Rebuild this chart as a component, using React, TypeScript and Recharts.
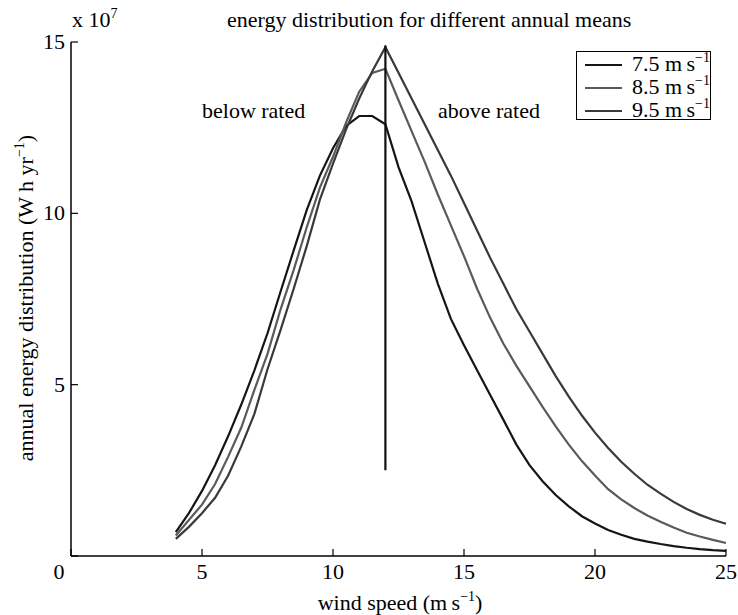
import { LineChart, Line, XAxis, YAxis, ReferenceLine, Legend } from 'recharts'

// wind speed (m/s) sampled every 0.5
const windSpeed = [
  4, 4.5, 5, 5.5, 6, 6.5, 7, 7.5, 8, 8.5, 9, 9.5, 10, 10.5, 11, 11.5, 12,
  12.5, 13, 13.5, 14, 14.5, 15, 15.5, 16, 16.5, 17, 17.5, 18, 18.5, 19, 19.5,
  20, 20.5, 21, 21.5, 22, 22.5, 23, 23.5, 24, 24.5, 25,
]

// annual energy, units of 1e7 W h / yr
const mean75 = [
  0.7, 1.25, 1.9, 2.65, 3.5, 4.42, 5.42, 6.5, 7.72, 8.92, 10.1, 11.1, 11.9, 12.55, 12.84, 12.84, 12.6,
  11.35, 10.35, 9.15, 7.95, 6.92, 6.15, 5.42, 4.7, 3.98, 3.25, 2.65, 2.18, 1.78, 1.45, 1.16,
  0.95, 0.76, 0.62, 0.5, 0.42, 0.35, 0.29, 0.24, 0.2, 0.17, 0.15,
]
const mean85 = [
  0.6, 1.05, 1.5, 2.1, 2.9, 3.75, 4.85, 5.9, 7.2, 8.35, 9.6, 10.75, 11.65, 12.65, 13.55, 14.1, 14.22,
  13.3, 12.4, 11.5, 10.55, 9.65, 8.75, 7.8, 6.95, 6.2, 5.55, 4.95, 4.35, 3.78, 3.25, 2.77,
  2.35, 1.95, 1.65, 1.4, 1.18, 1.0, 0.83, 0.68, 0.57, 0.47, 0.38,
]
const mean95 = [
  0.5, 0.85, 1.25, 1.7, 2.35, 3.2, 4.15, 5.45, 6.6, 7.8, 9.05, 10.4, 11.45, 12.45, 13.35, 14.15, 14.85,
  14.1, 13.35, 12.6, 11.85, 11.1, 10.3, 9.5, 8.7, 7.95, 7.2, 6.55, 5.9, 5.25, 4.65, 4.1,
  3.6, 3.15, 2.75, 2.4, 2.08, 1.82, 1.58, 1.37, 1.2, 1.06, 0.94,
]

const seriesNames = ['7.5', '8.5', '9.5']
const seriesKeys = ['m75', 'm85', 'm95']
const COLORS = ['#151515', '#5a5a5a', '#393939']

const xTicks = [0, 5, 10, 15, 20, 25]
const yTicks = [0, 5, 10, 15]
const ratedSpeed = 12
const ratedLineRange = [2.5, 14.9]

const data = windSpeed.map((x, i) => ({ x, m75: mean75[i], m85: mean85[i], m95: mean95[i] }))

const FONT = '"Liberation Serif", "Times New Roman", serif'
const FS = 22

function BottomTick(props: any) {
  const { x, y, payload } = props
  const shift = payload.value === 0 ? -12 : 0
  return (
    <g>
      <line x1={x} y1={y} x2={x} y2={y - 7} stroke="#000" strokeWidth={1.2} />
      <text x={x + shift} y={y + 23} textAnchor="middle" fontSize={FS} fontFamily={FONT} fill="#000">
        {payload.value}
      </text>
    </g>
  )
}

function TopTick(props: any) {
  const { x, y } = props
  return <line x1={x} y1={y} x2={x} y2={y + 7} stroke="#000" strokeWidth={1.2} />
}

function LeftTick(props: any) {
  const { x, y, payload } = props
  return (
    <g>
      <line x1={x} y1={y} x2={x + 7} y2={y} stroke="#000" strokeWidth={1.2} />
      {payload.value !== 0 && (
        <text x={x - 6} y={y + 7} textAnchor="end" fontSize={FS} fontFamily={FONT} fill="#000">
          {payload.value}
        </text>
      )}
    </g>
  )
}

function RightTick(props: any) {
  const { x, y } = props
  return <line x1={x} y1={y} x2={x - 7} y2={y} stroke="#000" strokeWidth={1.2} />
}

function LegendBox() {
  return (
    <div
      style={{
        boxSizing: 'border-box',
        width: 135,
        height: 69,
        border: '1.5px solid #000',
        background: '#fff',
        padding: '1px 0 0 8px',
        fontFamily: FONT,
        fontSize: FS,
        lineHeight: '23px',
        color: '#000',
      }}
    >
      {seriesNames.map((n, i) => (
        <div key={n} style={{ display: 'flex', alignItems: 'center', height: 23 }}>
          <span
            style={{
              display: 'inline-block',
              width: 37,
              height: 0,
              borderTop: `2.5px solid ${COLORS[i]}`,
              marginRight: 10,
            }}
          />
          <span style={{ whiteSpace: 'nowrap' }}>
            {n} m{'\u2009'}s
            <span style={{ fontSize: 14, position: 'relative', top: -9 }}>−1</span>
          </span>
        </div>
      ))}
    </div>
  )
}

export default function App() {
  return (
    <div style={{ position: 'absolute', left: 0, top: 0, width: 738, height: 615, background: '#fff' }}>
      <LineChart width={738} height={615} data={data} margin={{ top: 42, right: 12, bottom: 0, left: 0 }}>
        <XAxis
          dataKey="x"
          type="number"
          domain={[0, 25]}
          ticks={xTicks}
          interval={0}
          height={59}
          tickSize={0}
          tickMargin={0}
          tick={<BottomTick />}
          axisLine={{ stroke: '#000', strokeWidth: 1.5 }}
        />
        <XAxis
          xAxisId="top"
          orientation="top"
          type="number"
          domain={[0, 25]}
          ticks={xTicks}
          interval={0}
          height={0}
          tickSize={0}
          tickMargin={0}
          tick={<TopTick />}
          axisLine={{ stroke: '#000', strokeWidth: 1.5 }}
        />
        <YAxis
          type="number"
          domain={[0, 15]}
          ticks={yTicks}
          interval={0}
          width={71}
          tickSize={0}
          tickMargin={0}
          tick={<LeftTick />}
          axisLine={{ stroke: '#000', strokeWidth: 1.5 }}
        />
        <YAxis
          yAxisId="right"
          orientation="right"
          type="number"
          domain={[0, 15]}
          ticks={yTicks}
          interval={0}
          width={0}
          tickSize={0}
          tickMargin={0}
          tick={<RightTick />}
          axisLine={{ stroke: '#000', strokeWidth: 1.5 }}
        />
        {seriesKeys.map((k, i) => (
          <Line
            key={k}
            dataKey={k}
            name={seriesNames[i]}
            type="linear"
            stroke={COLORS[i]}
            strokeWidth={2.2}
            dot={false}
            isAnimationActive={false}
          />
        ))}
        <ReferenceLine
          segment={[
            { x: ratedSpeed, y: ratedLineRange[0] },
            { x: ratedSpeed, y: ratedLineRange[1] },
          ]}
          stroke="#111"
          strokeWidth={2.2}
        />
        <Legend
          layout="horizontal"
          verticalAlign="middle"
          align="center"
          content={() => <LegendBox />}
          wrapperStyle={{ left: 576, top: 51, width: 135, height: 69 }}
        />
      </LineChart>
      <svg
        width={738}
        height={615}
        style={{ position: 'absolute', left: 0, top: 0, pointerEvents: 'none' }}
        fontFamily={FONT}
        fontSize={FS}
        fill="#000"
      >
        <text x={72} y={27}>
          x 10<tspan fontSize={14} dy={-9}>7</tspan>
        </text>
        <text x={227} y={27}>energy distribution for different annual means</text>
        <text x={202} y={118}>below rated</text>
        <text x={438} y={118}>above rated</text>
        <text x={400} y={610} textAnchor="middle">
          wind speed (m{'\u2009'}s<tspan fontSize={14} dy={-9}>−1</tspan>
          <tspan dy={9}>)</tspan>
        </text>
        <text transform="translate(33, 298) rotate(-90)" textAnchor="middle">
          annual energy distribution (W h yr<tspan fontSize={14} dy={-9}>−1</tspan>
          <tspan dy={9}>)</tspan>
        </text>
      </svg>
    </div>
  )
}
